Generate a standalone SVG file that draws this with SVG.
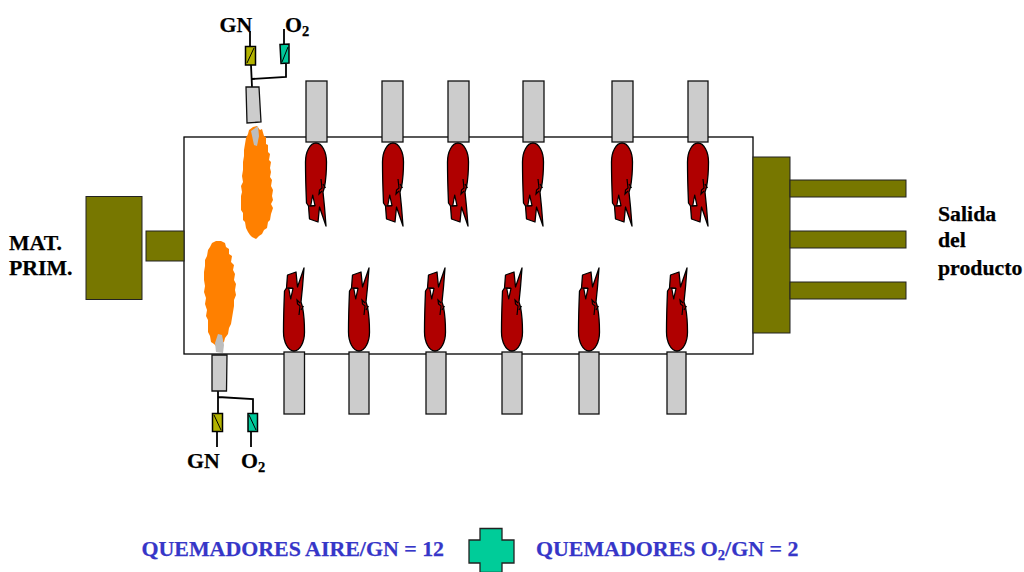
<svg xmlns="http://www.w3.org/2000/svg" width="1024" height="572" viewBox="0 0 1024 572">
<style>
.olive{fill:#777700;stroke:#222;stroke-width:1}
.burner{fill:#cccccc;stroke:#111;stroke-width:1.3}
.wire{fill:none;stroke:#000;stroke-width:1.8}
.gas{fill:#b3b300;stroke:#000;stroke-width:1.5}
.ox{fill:#00c99a;stroke:#000;stroke-width:1.5}
.slash{stroke:#000;stroke-width:1;fill:none}
.blob{fill:#ff8000}
.plume{fill:#bdbdbd}
.lab{font-family:"Liberation Serif","Times New Roman",serif;font-weight:bold;font-size:21.800px;fill:#000;stroke:#000;stroke-width:.25}
.leg{font-family:"Liberation Serif","Times New Roman",serif;font-weight:bold;font-size:21.900px;fill:#3636c8;stroke:#3636c8;stroke-width:.25}
.sub{font-size:14.500px}
</style>
<defs>
<!-- air/gas flame, drawn from the burner mouth at the origin, pointing down -->
<g id="flame">
<path d="M0,0 C6,0 10.500,9 10.500,19 C10.500,28 10,36 8.500,44 L7,49 L8.500,64 L10,83 L3.500,64 L2,79 L-6.500,76 L-7.500,63 L-9.500,60 C-10,48 -10.500,32 -10.500,19 C-10.500,9 -6,0 0,0 Z" fill="#b00000" stroke="#000" stroke-width="1.3" stroke-linejoin="round"/>
<path d="M-3.300,52 L-5.300,63 L-1,62.700 Z" fill="#fff" stroke="#000" stroke-width="1.2" stroke-linejoin="round"/>
<path d="M5,36 L6,45 L3.500,47 L3,51 L6,48 M7,41 L9.500,45 M-7.500,63 L-1,62.700" fill="none" stroke="#000" stroke-width="1.2"/>
</g>
</defs>

<rect id="furnace" x="184" y="137" width="569" height="217" fill="#fff" stroke="#000" stroke-width="1.3"/>

<g id="feed">
<rect class="olive" x="86" y="196.500" width="56" height="103"/>
<rect class="olive" x="146" y="231" width="38" height="30"/>
</g>
<g id="outlet">
<rect class="olive" x="753" y="157" width="37" height="176"/>
<rect class="olive" x="790" y="180" width="116" height="17"/>
<rect class="olive" x="790" y="231" width="116" height="17"/>
<rect class="olive" x="790" y="282" width="116" height="17"/>
</g>

<g id="oxy-flame-top">
<path class="blob" d="M253,127 L257,126 L260,130 L262,129 L264,136 L266,137 L266,144 L268,145 L268,152 L270,154 L269,160 L271,162 L270,168 L271,172 L270,177 L272,180 L271,186 L273,190 L272,196 L273,200 L271,204 L273,208 L271,214 L270,220 L268,222 L267,228 L264,230 L262,234 L259,236 L256,239 L252,237 L250,235 L248,232 L246,228 L245,222 L243,220 L243,213 L241,210 L241,203 L241,196 L242,192 L241,186 L243,182 L242,176 L243,170 L243,162 L244,156 L244,150 L245,144 L246,138 L248,134 L249,130 Z"/>
<path class="plume" d="M251,131 L258,126 L259,136 L257,146 L254,145 Z"/>
</g>
<g id="oxy-flame-bottom">
<path class="blob" d="M212,243 L216,241 L221,241 L225,243 L226,247 L229,249 L229,254 L232,256 L231,262 L234,265 L233,270 L235,274 L234,280 L236,284 L235,290 L236,295 L234,300 L234,306 L233,312 L232,318 L231,324 L229,328 L228,334 L225,338 L224,342 L220,344 L217,347 L214,344 L211,342 L210,336 L208,332 L208,326 L208,320 L206,316 L207,310 L205,304 L206,298 L204,292 L205,286 L204,280 L204,272 L205,266 L205,260 L207,256 L208,250 L210,247 Z"/>
<path class="plume" d="M218,334 L222,335 L224,345 L223,353 L216,352 L215,343 Z"/>
</g>

<g id="top-burners">
<rect class="burner" x="306" y="81" width="21" height="61"/>
<rect class="burner" x="382" y="81" width="21" height="61"/>
<rect class="burner" x="448" y="81" width="21" height="61"/>
<rect class="burner" x="523" y="81" width="21" height="61"/>
<rect class="burner" x="612" y="81" width="21" height="61"/>
<rect class="burner" x="688" y="81" width="20" height="61"/>
</g>
<g id="top-flames">
<use href="#flame" x="316" y="143"/>
<use href="#flame" x="393" y="143"/>
<use href="#flame" x="458" y="143"/>
<use href="#flame" x="533" y="143"/>
<use href="#flame" x="622" y="143"/>
<use href="#flame" x="698" y="143"/>
</g>
<g id="bottom-burners">
<rect class="burner" x="284" y="352" width="20.500" height="62"/>
<rect class="burner" x="349" y="352" width="20" height="62"/>
<rect class="burner" x="426" y="352" width="20" height="62"/>
<rect class="burner" x="502" y="352" width="20" height="62"/>
<rect class="burner" x="579" y="352" width="20" height="62"/>
<rect class="burner" x="667" y="352" width="19" height="62"/>
</g>
<g id="bottom-flames">
<use href="#flame" transform="translate(294,351) scale(1,-1)"/>
<use href="#flame" transform="translate(359,351) scale(1,-1)"/>
<use href="#flame" transform="translate(435,351) scale(1,-1)"/>
<use href="#flame" transform="translate(512,351) scale(1,-1)"/>
<use href="#flame" transform="translate(589,351) scale(1,-1)"/>
<use href="#flame" transform="translate(677,351) scale(1,-1)"/>
</g>

<g id="connectors">
<path class="wire" d="M250,31 V46 M251,65 L252,87 M252,79 L286,77 V64 M284,29 V44"/>
<path class="wire" d="M218,391 V413 M218,397 L253,399 V413 M217,432 V447 M251,432 V447"/>
</g>

<g id="top-oxy-burner">
<path class="burner" d="M246,87 L259,87 L261,122 L247,123 Z"/>
<rect class="gas" x="245.500" y="46.500" width="10" height="18.500"/>
<path class="slash" d="M247,63 L254,48"/>
<path class="ox" d="M280,44.500 L289,44 L289,63 L281,63.500 Z"/>
<path class="slash" d="M282,62 L288,47"/>
</g>
<g id="bottom-oxy-burner">
<path class="burner" d="M212,355 L227,355 L226.500,391 L212,391 Z"/>
<rect class="gas" x="212.500" y="413.500" width="10" height="18"/>
<path class="slash" d="M214,415 L221,430"/>
<rect class="ox" x="248" y="413.500" width="9.500" height="18"/>
<path class="slash" d="M249,415 L256,430"/>
</g>

<g id="labels">
<text class="lab" x="219.500" y="32">GN</text>
<text class="lab" x="285" y="32">O<tspan class="sub" dy="4">2</tspan></text>
<text class="lab" x="187" y="468">GN</text>
<text class="lab" x="241" y="468">O<tspan class="sub" dy="4">2</tspan></text>
<text class="lab" x="9" y="250">MAT.</text>
<text class="lab" x="9" y="275">PRIM.</text>
<text class="lab" x="938" y="221">Salida</text>
<text class="lab" x="938" y="247">del</text>
<text class="lab" x="938" y="275">producto</text>
</g>

<g id="legend">
<text class="leg" x="141.500" y="556">QUEMADORES AIRE/GN = 12</text>
<path d="M480,528.500 H502 V540 H514 V563 H502 V572.500 H480 V563 H469 V540 H480 Z" fill="#00cc99" stroke="#222" stroke-width="1.3"/>
<text class="leg" x="536" y="556">QUEMADORES O<tspan class="sub" dy="4">2</tspan><tspan dy="-4">/GN = 2</tspan></text>
</g>
</svg>
